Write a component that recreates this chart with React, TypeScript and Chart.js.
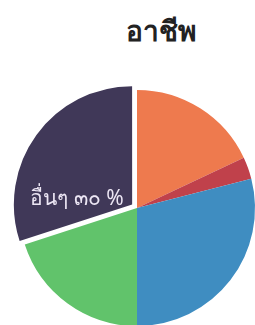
import React, { useEffect, useRef } from "react";
import { Chart, registerables } from "chart.js";

Chart.register(...registerables);

const categories = ["A", "B", "C", "D", "อื่นๆ"];
const values = [18, 3, 29, 20, 30];
const colors = ["#EE7A4E", "#C0414B", "#3F8DC1", "#61C36B", "#403858"];
const offsets = [0, 0, 0, 0, 24];
const titleText = "อาชีพ";
const sliceLabel = "อื่นๆ ๓๐ %";

const labelPlugin = {
  id: "sliceLabel",
  afterDatasetsDraw(chart: any) {
    const arc = chart.getDatasetMeta(0).data[4];
    if (!arc) return;
    const ctx = chart.ctx;
    ctx.save();
    ctx.fillStyle = "#ECE6F4";
    ctx.font = "21px 'Noto Sans', 'DejaVu Sans', sans-serif";
    ctx.textAlign = "center";
    ctx.textBaseline = "alphabetic";
    ctx.fillText(sliceLabel, arc.x - 60, arc.y - 3);
    ctx.restore();
  },
};

export default function App() {
  const ref = useRef<HTMLCanvasElement | null>(null);
  useEffect(() => {
    document.body.style.margin = "0";
    const chart = new Chart(ref.current as HTMLCanvasElement, {
      type: "pie",
      data: {
        labels: categories,
        datasets: [
          {
            data: values,
            backgroundColor: colors,
            borderWidth: 0,
            offset: offsets,
          },
        ],
      },
      options: {
        animation: false,
        responsive: false,
        maintainAspectRatio: false,
        layout: { padding: 0 },
        plugins: {
          legend: { display: false },
          tooltip: { enabled: false },
          title: { display: false },
        },
      },
      plugins: [labelPlugin],
    });
    return () => chart.destroy();
  }, []);

  return (
    <div
      style={{
        position: "relative",
        width: 255,
        height: 325,
        overflow: "hidden",
        background: "#ffffff",
      }}
    >
      <div
        style={{
          position: "absolute",
          left: 161,
          top: 9,
          transform: "translateX(-50%)",
          fontFamily: "'Noto Sans', 'DejaVu Sans', sans-serif",
          fontWeight: "bold",
          fontSize: 28,
          color: "#222222",
          whiteSpace: "nowrap",
        }}
      >
        {titleText}
      </div>
      <canvas
        ref={ref}
        width={260}
        height={260}
        style={{ position: "absolute", left: 7, top: 78, width: 260, height: 260 }}
      />
    </div>
  );
}
